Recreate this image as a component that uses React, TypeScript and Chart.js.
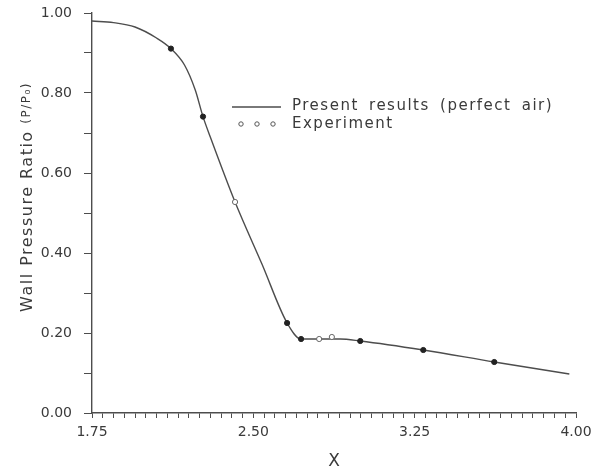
import React, { useEffect, useRef } from "react";
import { Chart, registerables } from "chart.js";

Chart.register(...registerables);

// ---- data ----
const curveX = [1.75, 1.85, 1.95, 2.05, 2.117, 2.18, 2.23, 2.266, 2.3, 2.415, 2.54, 2.657, 2.722, 2.806, 2.903, 2.997, 3.29, 3.62, 3.969];
const curveY = [0.98, 0.976, 0.965, 0.9375, 0.911, 0.87, 0.8075, 0.741, 0.69, 0.5275, 0.3725, 0.225, 0.185, 0.185, 0.185, 0.18, 0.1575, 0.1275, 0.0975];

const expX = [2.117, 2.266, 2.415, 2.657, 2.722, 2.806, 2.865, 2.997, 3.29, 3.62];
const expY = [0.911, 0.741, 0.5275, 0.225, 0.185, 0.185, 0.19, 0.18, 0.1575, 0.1275];
const expFilled = [true, true, false, true, true, false, false, true, true, true];

const xMajorTicks = [1.75, 2.5, 3.25, 4.0];
const yMajorTicks = [0, 0.2, 0.4, 0.6, 0.8, 1.0];

const seriesLabels = ["Present results (perfect air)", "Experiment"];
const xTitle = "X";
const yTitleMain = "Wall Pressure Ratio ";
const yTitleSub = "(P/P\u2080)";

const INK = "#3a3a3a";
const LINE = "#4d4d4d";
const FONT = '"DejaVu Sans", sans-serif';

const isMajor = (v: number, list: number[]) => list.some((m) => Math.abs(m - v) < 1e-6);

const annotPlugin = {
  id: "annot",
  afterDraw(chart: any) {
    const ctx = chart.ctx as CanvasRenderingContext2D;
    ctx.save();
    ctx.fillStyle = INK;
    // y title (rotated)
    ctx.translate(28, 197);
    ctx.rotate(-Math.PI / 2);
    (ctx as any).letterSpacing = "1.5px";
    ctx.font = `16px ${FONT}`;
    const w1 = ctx.measureText(yTitleMain).width;
    ctx.font = `12px ${FONT}`;
    const w2 = ctx.measureText(yTitleSub).width;
    const total = w1 + w2;
    ctx.textBaseline = "middle";
    ctx.textAlign = "left";
    ctx.font = `16px ${FONT}`;
    ctx.fillText(yTitleMain, -total / 2, 0);
    ctx.font = `12px ${FONT}`;
    ctx.fillText(yTitleSub, -total / 2 + w1, -1);
    ctx.restore();

    // legend
    ctx.save();
    ctx.fillStyle = INK;
    ctx.strokeStyle = LINE;
    ctx.lineWidth = 1.4;
    ctx.beginPath();
    ctx.moveTo(232, 107);
    ctx.lineTo(281, 107);
    ctx.stroke();
    ctx.font = `15px ${FONT}`;
    (ctx as any).letterSpacing = "1.5px";
    (ctx as any).wordSpacing = "4px";
    ctx.textBaseline = "middle";
    ctx.textAlign = "left";
    ctx.fillText(seriesLabels[0], 292, 106);
    ctx.fillText(seriesLabels[1], 292, 124);
    ctx.lineWidth = 1;
    ctx.strokeStyle = "#555";
    [241, 257, 273].forEach((cx) => {
      ctx.beginPath();
      ctx.arc(cx, 124, 2.2, 0, Math.PI * 2);
      ctx.stroke();
    });
    ctx.restore();
  },
};

export default function App() {
  const ref = useRef<HTMLCanvasElement | null>(null);

  useEffect(() => {
    if (!ref.current) return;
    const chart = new Chart(ref.current, {
      type: "scatter",
      data: {
        datasets: [
          {
            label: seriesLabels[0],
            type: "line",
            data: curveX.map((x, i) => ({ x, y: curveY[i] })),
            borderColor: LINE,
            borderWidth: 1.4,
            pointRadius: 0,
            cubicInterpolationMode: "monotone",
            fill: false,
            order: 2,
          } as any,
          {
            label: seriesLabels[1],
            data: expX.map((x, i) => ({ x, y: expY[i] })),
            pointRadius: 2.6,
            pointBackgroundColor: expFilled.map((f) => (f ? "#222" : "#ffffff")),
            pointBorderColor: expFilled.map((f) => (f ? "#222" : "#666")),
            pointBorderWidth: 1,
            showLine: false,
            order: 1,
          },
        ],
      },
      options: {
        animation: false,
        responsive: true,
        maintainAspectRatio: false,
        layout: { padding: { top: 13, right: 30, left: 0, bottom: 0 } },
        plugins: { legend: { display: false }, tooltip: { enabled: false } },
        scales: {
          x: {
            type: "linear",
            min: 1.75,
            max: 4.0,
            afterBuildTicks: (scale: any) => {
              const t = [];
              for (let i = 0; i <= 45; i++) t.push({ value: Math.round((1.75 + i * 0.05) * 100) / 100 });
              scale.ticks = t;
            },
            afterFit: (scale: any) => {
              scale.height = 57;
            },
            ticks: {
              autoSkip: false,
              maxRotation: 0,
              padding: 6,
              color: INK,
              font: { family: FONT, size: 14 },
              callback: (v: any) => (isMajor(Number(v), xMajorTicks) ? Number(v).toFixed(2) : ""),
            },
            grid: {
              display: true,
              drawOnChartArea: false,
              drawTicks: true,
              tickLength: 5,
              tickColor: LINE,
              tickWidth: 1,
            },
            border: { display: true, color: LINE, width: 1.4 },
            title: {
              display: true,
              text: xTitle,
              color: INK,
              font: { family: FONT, size: 17 },
              padding: { top: 0, bottom: -2 },
            },
          },
          y: {
            type: "linear",
            min: 0,
            max: 1.0,
            afterBuildTicks: (scale: any) => {
              const t = [];
              for (let i = 0; i <= 10; i++) t.push({ value: Math.round(i * 0.1 * 100) / 100 });
              scale.ticks = t;
            },
            afterFit: (scale: any) => {
              scale.width = 92;
              scale.paddingTop = 6;
              scale.paddingBottom = 6;
            },
            ticks: {
              autoSkip: false,
              padding: 12,
              color: INK,
              font: { family: FONT, size: 14 },
              callback: (v: any) => (isMajor(Number(v), yMajorTicks) ? Number(v).toFixed(2) : ""),
            },
            grid: {
              display: true,
              drawOnChartArea: false,
              drawTicks: true,
              tickLength: 8,
              tickColor: LINE,
              tickWidth: 1,
            },
            border: { display: true, color: LINE, width: 1.4 },
          },
        },
      } as any,
      plugins: [annotPlugin],
    });
    return () => chart.destroy();
  }, []);

  return (
    <div style={{ position: "fixed", left: 0, top: 0, width: 606, height: 470, background: "#fff" }}>
      <canvas ref={ref} />
    </div>
  );
}
